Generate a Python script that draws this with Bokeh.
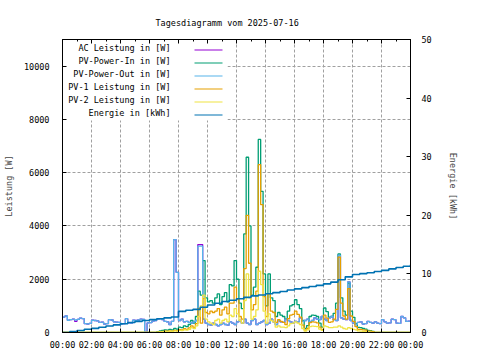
import pandas as pd
from bokeh.plotting import figure
from bokeh.models import (Range1d, LinearAxis, DatetimeAxis, FixedTicker, DatetimeTickFormatter,
                          BoxAnnotation, Label, ColumnDataSource)
from bokeh.embed import file_html
from bokeh.resources import INLINE

FONT = "DejaVu Sans Mono"
FS = "8.5px"

title_text = "Tagesdiagramm vom 2025-07-16"
day_str = "2025-07-16"

# ---- data (10-minute steps, 00:00 .. 24:00) ----
# PV-Power-Out [W], full day
pv_out = [580, 620, 460, 480, 500, 470, 490, 540, 520, 330,
          320, 340, 460, 450, 440, 380, 390, 320, 330, 480,
          470, 400, 390, 380, 320, 330, 520, 360, 350, 460,
          450, 470, 500, 490, 0, 360, 370, 430, 450, 500,
          520, 480, 420, 400, 300, 420, 3490, 2260, 450, 500,
          400, 420, 380, 350, 400, 450, 3240, 3240, 500, 350,
          300, 280, 350, 300, 250, 300, 350, 300, 280, 400,
          350, 300, 400, 450, 350, 500, 350, 300, 450, 500,
          300, 350, 400, 450, 300, 350, 500, 400, 300, 450,
          400, 380, 500, 450, 400, 350, 420, 400, 550, 420,
          450, 500, 400, 450, 550, 500, 480, 600, 500, 450,
          550, 600, 480, 450, 2900, 550, 500, 480, 1900, 450,
          350, 300, 380, 400, 320, 330, 420, 380, 350, 400,
          350, 330, 480, 400, 350, 360, 500, 480, 350, 340,
          600, 550, 420, 430, 430]
# AC Leistung [W], full day
ac_power = [580, 620, 460, 480, 500, 420, 490, 540, 520, 330,
            320, 340, 460, 450, 440, 380, 390, 320, 330, 480,
            470, 400, 390, 380, 320, 330, 520, 360, 350, 460,
            450, 470, 500, 490, 0, 360, 370, 430, 450, 500,
            520, 480, 420, 400, 300, 420, 3490, 2260, 450, 500,
            400, 420, 380, 350, 400, 450, 3300, 3300, 500, 350,
            300, 280, 350, 300, 250, 300, 350, 300, 280, 400,
            350, 300, 400, 450, 350, 500, 350, 300, 450, 500,
            300, 350, 400, 450, 300, 350, 500, 400, 300, 450,
            400, 380, 500, 450, 400, 350, 420, 400, 550, 420,
            450, 500, 400, 450, 550, 500, 480, 600, 500, 450,
            550, 600, 480, 450, 2900, 550, 500, 480, 1900, 450,
            350, 300, 380, 400, 320, 330, 420, 380, 350, 400,
            350, 330, 480, 400, 350, 360, 500, 480, 350, 340,
            600, 550, 420, 430, 430]
# daytime values 06:20 .. 21:30 (zero outside)
pv_in_day = [0, 30, 60, 80, 100, 90, 120, 100, 150, 130,
             200, 180, 250, 220, 300, 450, 350, 600, 1550, 1400,
             2700, 1300, 1150, 1200, 1100, 1300, 1450, 1050, 1350, 1500,
             1150, 1800, 1750, 2700, 2000, 1100, 900, 3700, 6580, 4000,
             1400, 1700, 2450, 7250, 5300, 2200, 1000, 2200, 1300, 1200,
             600, 750, 650, 600, 500, 800, 1000, 1050, 1230, 1050,
             900, 450, 150, 260, 600, 650, 640, 600, 350, 200,
             920, 780, 580, 600, 720, 1100, 2950, 1300, 800, 650,
             1850, 800, 570, 330, 190, 180, 150, 130, 80, 70,
             40, 0]
pv1_day = [0, 15, 30, 40, 50, 50, 60, 50, 80, 70,
           110, 100, 140, 120, 170, 250, 190, 330, 900, 350,
           1270, 750, 700, 800, 750, 800, 900, 650, 850, 950,
           700, 1100, 1100, 1700, 1250, 600, 500, 2400, 4400, 2600,
           850, 1050, 1550, 6300, 4800, 1350, 600, 1450, 800, 750,
           380, 480, 420, 380, 300, 520, 650, 680, 800, 680,
           580, 280, 90, 150, 370, 400, 390, 360, 200, 110,
           650, 540, 380, 400, 500, 870, 2830, 1100, 620, 500,
           1650, 620, 420, 220, 120, 120, 100, 90, 50, 50,
           30, 0]
pv2_day = [0, 10, 20, 30, 40, 30, 50, 40, 60, 50,
           80, 70, 100, 90, 120, 180, 150, 250, 600, 1000,
           1400, 500, 400, 350, 300, 450, 500, 350, 450, 500,
           400, 650, 600, 900, 700, 450, 350, 1200, 2200, 1300,
           500, 600, 850, 2300, 1800, 800, 350, 700, 450, 400,
           200, 250, 200, 200, 180, 250, 330, 350, 400, 350,
           300, 150, 50, 100, 220, 240, 230, 220, 130, 80,
           250, 220, 180, 180, 200, 200, 250, 200, 150, 130,
           180, 150, 120, 100, 60, 50, 40, 30, 20, 10,
           0, 0]
day_start_index = 38  # 06:20
# Energie [kWh], 30-minute steps
energy = [0, 0.15, 0.35, 0.55, 0.7, 0.9, 1.1, 1.3, 1.5, 1.7,
          1.9, 2.05, 2.2, 2.35, 2.5, 2.65, 3.6, 3.8, 3.95, 4.3,
          4.7, 5.0, 5.3, 5.5, 5.75, 6.0, 6.25, 6.4, 6.6, 6.8,
          7.0, 7.25, 7.45, 7.65, 7.85, 8.05, 8.3, 8.6, 9.0, 9.5,
          9.9, 10.05, 10.2, 10.4, 10.6, 10.85, 11.1, 11.3, 11.55]

legend_labels = ["AC Leistung in [W]", "PV-Power-In in [W]", "PV-Power-Out in [W]",
                 "PV-1 Leistung in [W]", "PV-2 Leistung in [W]", "Energie in [kWh]"]
colors = ["#9400d3", "#009e73", "#56b4e9", "#e69f00", "#f0e442", "#0072b2"]

y_ticks = [0, 2000, 4000, 6000, 8000, 10000]
y2_ticks = [0, 10, 20, 30, 40, 50]

# ---- build ----
day = pd.Timestamp(day_str)
n = len(pv_out)
t10 = pd.date_range(day, periods=n, freq="10min")
t30 = pd.date_range(day, periods=len(energy), freq="30min")

def pad(vals):
    out = [0] * day_start_index + list(vals)
    return out + [0] * (n - len(out))

series = [ac_power, pad(pv_in_day), pv_out, pad(pv1_day), pad(pv2_day)]

x0 = day
x1 = day + pd.Timedelta(hours=24)

p = figure(width=464, height=352, x_axis_type="datetime",
           x_range=Range1d(x0, x1), y_range=Range1d(0, 11000),
           output_backend="svg", toolbar_location=None,
           min_border_left=56, min_border_right=54, min_border_top=39, min_border_bottom=20)
p.extra_y_ranges = {"energy": Range1d(0, 50)}

p.title.text = title_text
p.title.align = "left"
p.title.vertical_align = "top"
p.title.offset = 93
p.title.standoff = 20
p.title.text_font = FONT
p.title.text_font_size = FS
p.title.text_font_style = "normal"
p.title.text_color = "black"

ax_bottom = p.below[0]
ax_left = p.left[0]

ms = lambda h: (day + pd.Timedelta(hours=h)).timestamp() * 1000
x_ticker = FixedTicker(ticks=[ms(h) for h in range(0, 25, 2)],
                       minor_ticks=[ms(h) for h in range(1, 24, 2)])
fmt = DatetimeTickFormatter(hours="%H:%M", days="%H:%M", months="%H:%M", years="%H:%M",
                            context=None)
ax_bottom.ticker = x_ticker
ax_bottom.formatter = fmt
ax_left.ticker = FixedTicker(ticks=y_ticks)
ax_left.axis_label = "Leistung [W]"

ax2 = LinearAxis(y_range_name="energy", ticker=FixedTicker(ticks=y2_ticks), axis_label="Energie [kWh]")
p.add_layout(ax2, "right")

# mirrored x ticks on the top border (no visible labels)
ax_top = DatetimeAxis(ticker=x_ticker, formatter=fmt, major_label_text_color=None,
                      major_label_text_font_size="1px", major_label_standoff=0)
p.add_layout(ax_top, "above")

for ax in [ax_bottom, ax_left, ax2, ax_top]:
    ax.major_label_text_font = FONT
    ax.axis_label_text_font = FONT
    ax.axis_label_text_font_size = FS
    ax.axis_label_text_font_style = "normal"
    ax.major_tick_in = 4
    ax.major_tick_out = 0
    ax.minor_tick_in = 2
    ax.minor_tick_out = 0
    ax.axis_line_color = "black"
    ax.major_tick_line_color = "black"
    ax.minor_tick_line_color = "black"
for ax in [ax_bottom, ax_left, ax2]:
    ax.major_label_text_font_size = FS
    ax.major_label_text_color = "black"
ax_left.minor_tick_line_color = None
ax2.minor_tick_line_color = None
ax_bottom.major_label_standoff = 7
ax_left.major_label_standoff = 13
ax_left.axis_label_standoff = 7
ax2.major_label_standoff = 11
ax2.axis_label_standoff = 13

p.outline_line_color = "black"
p.outline_line_alpha = 1
for g in [p.xgrid[0], p.ygrid[0]]:
    g.grid_line_color = "#a0a0a0"
    g.grid_line_dash = "3 2"
    g.grid_line_width = 1

# legend background (covers grid)
p.add_layout(BoxAnnotation(left=1, right=165, top=292, bottom=212,
                           left_units="screen", right_units="screen",
                           top_units="screen", bottom_units="screen",
                           fill_color="white", fill_alpha=1, line_alpha=0, level="underlay"))

for i, (vals, col) in enumerate(zip(series, colors[:5])):
    src = ColumnDataSource(dict(t=t10, v=vals))
    p.step(x="t", y="v", source=src, mode="after", line_color=col, line_width=1.3)

src_e = ColumnDataSource(dict(t=t30, v=energy))
p.step(x="t", y="v", source=src_e, mode="after", line_color=colors[5], line_width=1.6,
       y_range_name="energy")

for k, (lab, col) in enumerate(zip(legend_labels, colors)):
    yc = 284.7 - 13 * k
    p.add_layout(Label(x=108, y=yc, x_units="screen", y_units="screen", text=lab,
                       text_align="right", text_baseline="middle",
                       text_font=FONT, text_font_size=FS, text_color="black"))
    p.add_layout(BoxAnnotation(left=132, right=160, top=283 - 13 * k, bottom=282 - 13 * k,
                               left_units="screen", right_units="screen",
                               top_units="screen", bottom_units="screen",
                               fill_color=col, fill_alpha=1, line_alpha=0))

open("out.html", "w").write(file_html(p, INLINE))
